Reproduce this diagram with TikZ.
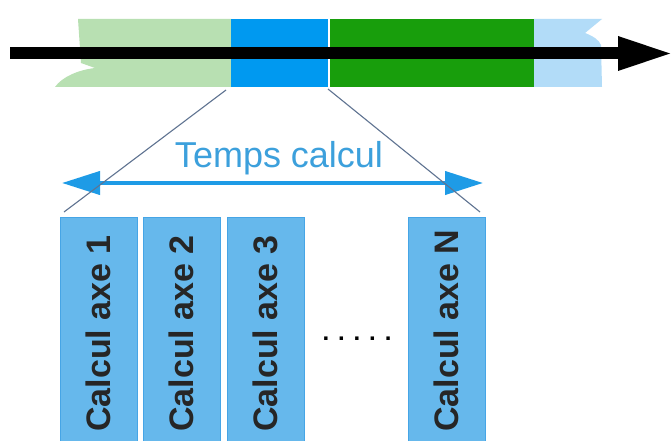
\documentclass[tikz,border=0pt]{standalone}
\usepackage{fontspec}
\setmainfont{Liberation Sans}
\usetikzlibrary{arrows.meta}

\definecolor{pastgreen}{RGB}{184,224,178}
\definecolor{calcblue}{RGB}{0,153,240}
\definecolor{runGreen}{RGB}{24,158,12}
\definecolor{nextblue}{RGB}{178,220,248}
\definecolor{boxfill}{RGB}{102,184,236}
\definecolor{boxedge}{RGB}{70,165,230}
\definecolor{spanblue}{RGB}{30,155,230}
\definecolor{spantext}{RGB}{60,160,220}
\definecolor{zoomline}{RGB}{95,115,145}

\tikzset{
  segment/.style={draw=none, inner sep=0pt, outer sep=0pt, minimum height=68pt, anchor=north west},
  axebox/.style={fill=boxfill, draw=boxedge, line width=0.8pt, inner sep=0pt,
                 minimum width=77pt, minimum height=240pt, anchor=north west},
  axelabel/.style={rotate=90, anchor=base west, inner sep=0pt,
                   font=\bfseries\fontsize{34}{34}\selectfont, text=black!85},
  zoom/.style={draw=zoomline, line width=1.1pt},
  span/.style={draw=spanblue, line width=4pt,
               {Triangle[length=38pt,width=23pt]}-{Triangle[length=38pt,width=23pt]}},
}

\begin{document}
\begin{tikzpicture}[x=1pt, y=-1pt]
\clip (0,0) rectangle (671,441);
\fill[white] (0,0) rectangle (671,441);

% timeline strip
\fill[pastgreen] (231,19) -- (78,19) -- (81,63) -- (95,68)
  .. controls (78,70) and (62,77) .. (55,87) -- (231,87) -- cycle;
\fill[nextblue] (534,19) -- (602,19) -- (585,33)
  .. controls (593,36) and (599,40) .. (601,45) -- (602,87) -- (534,87) -- cycle;
\node[segment, fill=calcblue, minimum width=97pt] (calc) at (231,19) {};
\node[segment, fill=runGreen, minimum width=204pt] (run) at (330,19) {};

% time axis
\coordinate (tstart) at (10,53.5);
\coordinate (tend) at (620,53.5);
\draw[line width=12pt] (tstart) -- (tend);
\fill (618,36) -- (670,53.5) -- (618,71) -- cycle;

% parallel computation boxes
\node[axebox] (box1) at (60,217) {};
\node[axebox] (box2) at (143,217) {};
\node[axebox] (box3) at (227,217) {};
\node[axebox] (boxN) at (408,217) {};
\foreach \b/\t in {box1/1, box2/2, box3/3, boxN/N}
  \node[axelabel] at ([xshift=12pt]\b.north |- 0,432) {Calcul axe \t};

\node[font=\bfseries\fontsize{24}{24}\selectfont, inner sep=0pt, anchor=base]
  (dots) at (357,340) {. . . . .};

% computation time span
\coordinate (spanL) at (62,183);
\coordinate (spanR) at (483,183);
\draw[span] (spanL) -- (spanR);
\node[text=spantext, font=\fontsize{36}{36}\selectfont, inner sep=0pt, anchor=base]
  (temps) at (279,167) {Temps calcul};

% zoom lines from the computation slot
\coordinate (zL) at (64,212);
\coordinate (zR) at (480,212);
\draw[zoom] ([xshift=-5pt,yshift=-3pt]calc.south west) -- (zL);
\draw[zoom] ([yshift=-2pt]calc.south east) -- (zR);
\end{tikzpicture}
\end{document}
